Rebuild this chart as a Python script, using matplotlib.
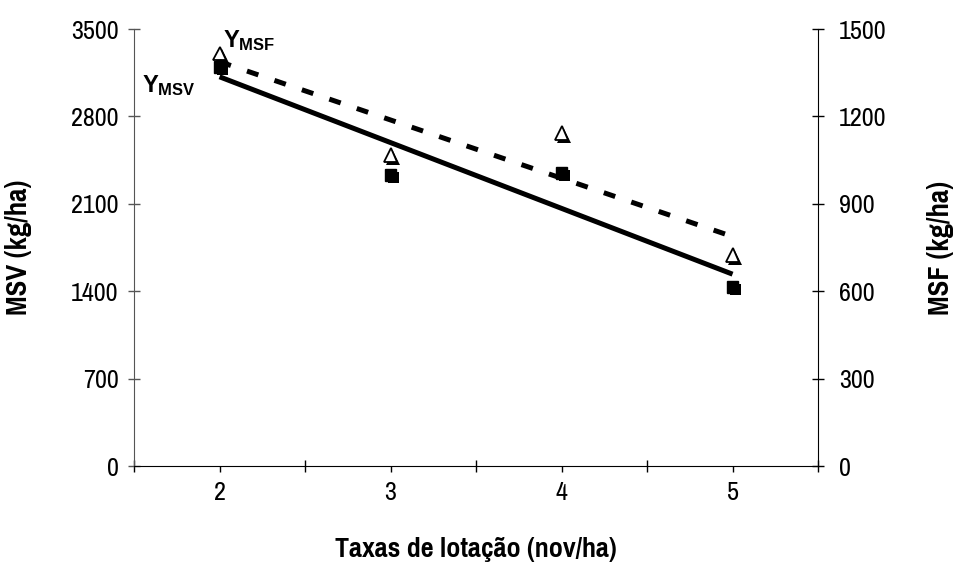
import matplotlib
matplotlib.use("Agg")
import matplotlib.pyplot as plt
import matplotlib.patheffects as pe
import numpy as np

plt.rcParams['font.family'] = ['Pragati Narrow', 'Liberation Sans', 'DejaVu Sans']
plt.rcParams['mathtext.fontset'] = 'custom'
plt.rcParams['mathtext.rm'] = 'Liberation Sans:bold'
plt.rcParams['mathtext.bf'] = 'Liberation Sans:bold'

# stocking rates and the two forage masses
rates = [2, 3, 4, 5]
msv = [3196, 2331, 2347, 1434]   # kg/ha, left axis
msf = [1416, 1068, 1143, 724]    # kg/ha, right axis

msv_ticks = [0, 700, 1400, 2100, 2800, 3500]
msf_ticks = [0, 300, 600, 900, 1200, 1500]

fig = plt.figure(figsize=(9.56, 5.69), dpi=100)
ax = fig.add_axes([0.1402, 0.181, 0.7155, 0.768])
ax2 = ax.twinx()

shadow = [pe.SimplePatchShadow(offset=(2, -2), shadow_rgbFace='k', alpha=1.0), pe.Normal()]

# linear trend lines
xx = np.array([rates[0], rates[-1]])
c1 = np.polyfit(rates, msv, 1)
c2 = np.polyfit(rates, msf, 1)

ax.plot(rates, msv, linestyle='none', marker='s', ms=8, mfc='k', mec='k',
        path_effects=shadow, zorder=3)
ax.plot(xx, np.polyval(c1, xx), color='k', lw=3.6, solid_capstyle='butt', zorder=4)

ax2.plot(rates, msf, linestyle='none', marker='^', ms=10, mfc='white', mec='k',
         mew=1.3, path_effects=shadow, zorder=3)
ax2.plot(xx, np.polyval(c2, xx), color='k', lw=3.6, linestyle=(0, (2.4, 3.4)),
         dash_capstyle='butt', zorder=4)

ax.set_xlim(1.5, 5.5)
ax.set_ylim(0, 3500)
ax2.set_ylim(0, 1500)

ax.set_xticks([1.5, 2.5, 3.5, 4.5, 5.5])
ax.set_xticklabels([])
ax.set_xticks(rates, minor=True)
ax.set_xticklabels([str(r) for r in rates], minor=True)
ax.tick_params(axis='x', which='major', direction='inout', length=9, width=1)
ax.tick_params(axis='x', which='minor', direction='out', length=4, width=1,
               labelsize=20.5, pad=7)

ax.set_yticks(msv_ticks)
ax.tick_params(axis='y', direction='inout', length=8, width=1, labelsize=20.5,
               pad=7, color='#555555')
ax2.set_yticks(msf_ticks)
ax2.tick_params(axis='y', direction='inout', length=8, width=1, labelsize=20.5, pad=11)

for a in (ax, ax2):
    a.spines['top'].set_visible(False)
ax.spines['right'].set_visible(False)
ax.spines['left'].set_color('#555555')
ax2.spines['left'].set_visible(False)
ax2.spines['bottom'].set_visible(False)

ax.set_xlabel('Taxas de lotação (nov/ha)', fontsize=22, fontweight='bold')
ax.set_ylabel('MSV (kg/ha)', fontsize=22.5, fontweight='bold')
ax2.set_ylabel('MSF (kg/ha)', fontsize=22.5, fontweight='bold')
ax.xaxis.set_label_coords(0.5, -0.163)
ax.yaxis.set_label_coords(-0.149, 0.5)
ax2.yaxis.set_label_coords(1.16, 0.5)

ax.text(1.547, 2995, r'$\mathbf{Y_{MSV}}$', fontsize=17, va='baseline', ha='left')
ax.text(2.019, 3356, r'$\mathbf{Y_{MSF}}$', fontsize=17, va='baseline', ha='left')

fig.savefig('out.png', dpi=100)
